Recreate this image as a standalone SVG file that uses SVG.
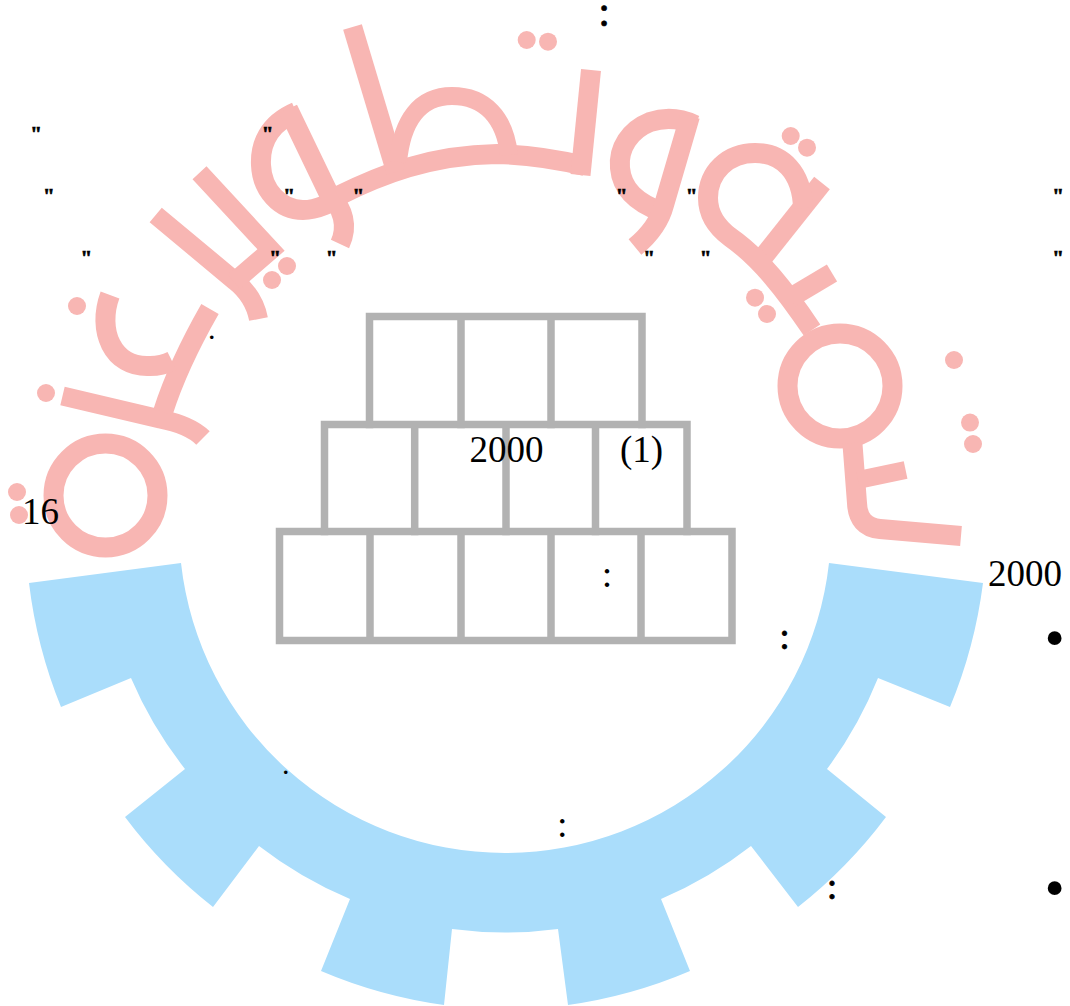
<svg xmlns="http://www.w3.org/2000/svg" width="1070" height="1006" viewBox="0 0 1070 1006">
<style>
.r{fill:none;stroke:#f8b6b3;stroke-width:20}
.d{fill:#f8b6b3}
.g{fill:none;stroke:#b2b2b2;stroke-width:7.500;stroke-linecap:square}
text{font-family:"Liberation Serif","Times New Roman",serif;fill:#000}
.n{font-size:37px}
.q{font-size:21px;font-weight:bold;text-anchor:middle;stroke:#000;stroke-width:.7px}
.c{font-size:44px;text-anchor:middle;stroke:#000;stroke-width:.6px}
.c2{font-size:38px;text-anchor:middle;stroke:#000;stroke-width:.8px}
.cs{font-size:38px;text-anchor:middle}
.p{font-size:30px;text-anchor:middle}
.b{font-size:58px;text-anchor:middle}
</style>
<rect width="1070" height="1006" fill="#fff"/>
<g id="gear">
<path fill="#aaddfb" d="M181 563 L29 583 A481 481 0 0 0 61 707 L131 678 A403 403 0 0 0 185 769 L125 817 A481 481 0 0 0 213 907 L259 846 A403 403 0 0 0 350 899 L321 971 A481 481 0 0 0 444 1005 L452 929 A403 403 0 0 0 558 929 L568 1005 A481 481 0 0 0 690 971 L661 899 A403 403 0 0 0 751 846 L798 907 A481 481 0 0 0 886 817 L827 769 A403 403 0 0 0 878 678 L950 707 A481 481 0 0 0 983 583 L829 563 A326 326 0 0 1 181 563 Z"/>
</g>
<g id="lettering">
<circle class="r" cx="105.500" cy="495.500" r="52"/>
<path class="r" style="stroke-width:19" d="M62.500 396 L160 419 Q190 425 203 438"/>
<path class="r" d="M210 309 Q178 365 163 412"/>
<path class="r" d="M110 295 C97 330 112 368 150 366 Q162 366 172 361"/>
<path class="r" style="stroke-width:19" d="M155.700 215 L235 281 Q254 296 258.500 319"/>
<path class="r" style="stroke-width:19" d="M199.500 172.700 L271 250 L234 282"/>
<path class="r" d="M296 112 C268 124 260 145 261 165 C262 190 280 210 303 210 C318 210 330 203 342 196"/>
<path class="r" d="M288 109 L328 192 Q352 218 340 244"/>
<path class="r" d="M338 196 C380 175 430 155 497 154 Q540 155 585 166"/>
<path class="r" d="M591 70 L580.500 175"/>
<path class="r" style="stroke-width:19.500" d="M352.500 27 L396 172"/>
<path class="r" style="stroke-width:18" d="M398 162 C402 120 420 96 452 96 C485 96 505 118 509 155"/>
<path class="r" d="M695 125 C680 118 665 117 650 122 C630 130 618 148 620 168 C622 190 637 203 662 212"/>
<path class="r" d="M690 116 L664 205 Q658 228 635 247"/>
<path class="r" d="M822 183 L760 261"/>
<path class="r" d="M803 208 C802 172 782 153 755 153 C728 153 708 172 708 198 C708 215 718 228 730 237 C760 258 785 290 812 330"/>
<path class="r" d="M832 273 L790 298"/>
<circle class="r" cx="840" cy="386" r="52.500"/>
<path class="r" d="M852.400 443 L857 503 Q858 527 880 529 L961 536"/>
<path class="r" style="stroke-width:18" d="M905.600 470 L858 480"/>
<circle class="d" cx="17" cy="492" r="9"/>
<circle class="d" cx="19" cy="515" r="9"/>
<circle class="d" cx="46" cy="393" r="9"/>
<circle class="d" cx="77" cy="306" r="9"/>
<circle class="d" cx="272" cy="280" r="9"/>
<circle class="d" cx="287" cy="266" r="9"/>
<circle class="d" cx="526.700" cy="40" r="9"/>
<circle class="d" cx="548" cy="41.700" r="9"/>
<circle class="d" cx="790.700" cy="136" r="9"/>
<circle class="d" cx="807" cy="147.700" r="9"/>
<circle class="d" cx="755" cy="297.700" r="9"/>
<circle class="d" cx="767" cy="314" r="9"/>
<circle class="d" cx="954" cy="360" r="9"/>
<circle class="d" cx="970" cy="422.600" r="9"/>
<circle class="d" cx="973" cy="444" r="9"/>
</g>
<g id="bricks">
<path class="g" d="M369.500 424.500 V316.500 H642 V424.500 M461 316.500 V424.500 M551 316.500 V424.500"/>
<path class="g" d="M324.500 531.500 V424.500 H687 V531.500 M414.700 424.500 V531.500 M506 424.500 V531.500 M595.500 424.500 V531.500"/>
<path class="g" d="M279.500 531.500 H732 V640.400 H279.500 Z M370 531.500 V640.400 M461 531.500 V640.400 M551 531.500 V640.400 M641 531.500 V640.400"/>
</g>
<g id="labels">
<text class="c" x="604" y="26">:</text>
<text class="q" x="36.200" y="141">"</text>
<text class="q" x="267.700" y="141">"</text>
<text class="q" x="48.800" y="203">"</text>
<text class="q" x="289" y="203">"</text>
<text class="q" x="358.300" y="203">"</text>
<text class="q" x="621.700" y="203">"</text>
<text class="q" x="691.700" y="203">"</text>
<text class="q" x="1058" y="203">"</text>
<text class="q" x="86.300" y="265">"</text>
<text class="q" x="275" y="265">"</text>
<text class="q" x="331.700" y="265">"</text>
<text class="q" x="649" y="265">"</text>
<text class="q" x="705.700" y="265">"</text>
<text class="q" x="1058" y="265">"</text>
<text class="p" x="211.700" y="339">.</text>
<text class="n" x="469.500" y="461.700">2000</text>
<text class="n" x="620" y="461.700">(1)</text>
<text class="n" x="22" y="524">16</text>
<text class="n" x="988" y="586">2000</text>
<text class="cs" x="607" y="587">:</text>
<text class="c2" x="784.500" y="649">:</text>
<text class="b" x="1054.700" y="656.600">•</text>
<text class="p" x="285.700" y="773.600">.</text>
<text class="cs" x="562.300" y="837">:</text>
<text class="c2" x="832" y="899">:</text>
<text class="b" x="1054.700" y="906.700">•</text>
</g>
</svg>
